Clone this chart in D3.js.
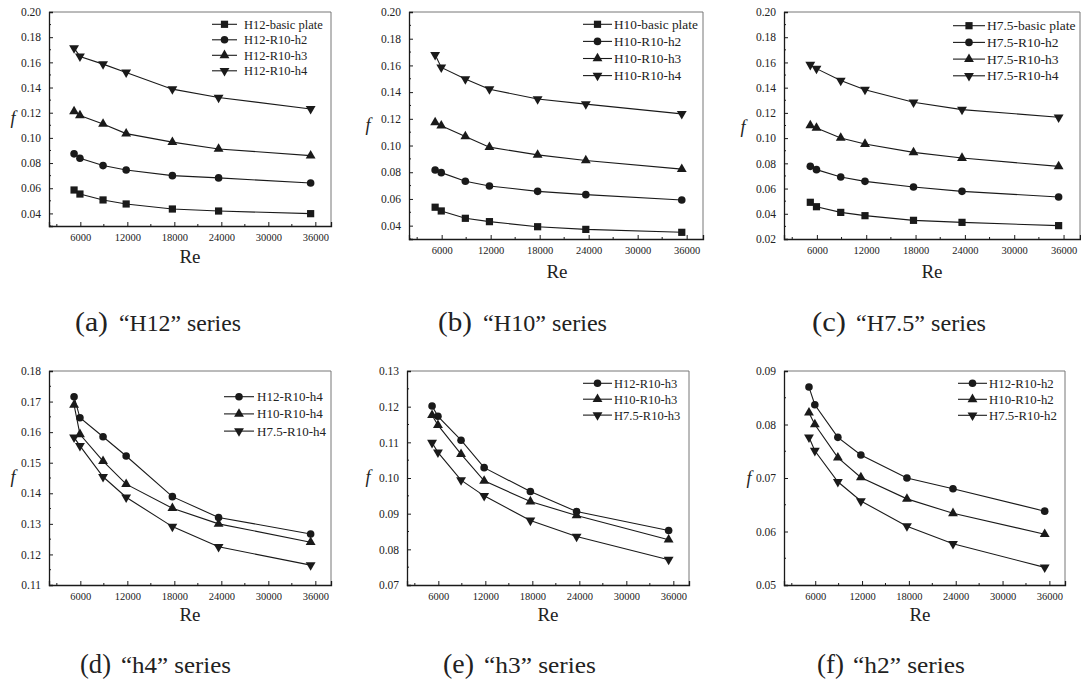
<!DOCTYPE html>
<html><head><meta charset="utf-8">
<script src="https://cdn.jsdelivr.net/npm/d3@7"></script>
<style>
html,body{margin:0;padding:0;background:#fff;}
svg{display:block;}
svg text{font-family:"Liberation Serif","Times New Roman",Tinos,"DejaVu Serif",serif !important;}
</style></head>
<body><svg id="c" width="1081" height="681"></svg>
<script>
// ---- data ----
const reValues = [5200, 5950, 8900, 11850, 17750, 23650, 35400];
const xTicks = [6000, 12000, 18000, 24000, 30000, 36000];

// (a) H12 series
const aNames = ["H12-basic plate", "H12-R10-h2", "H12-R10-h3", "H12-R10-h4"];
const aBasic = [0.0586, 0.0554, 0.0507, 0.0475, 0.0435, 0.0419, 0.0398];
const aH2 = [0.0873, 0.0838, 0.0780, 0.0745, 0.0700, 0.0682, 0.0642];
const aH3 = [0.1210, 0.1178, 0.1111, 0.1034, 0.0966, 0.0912, 0.0859];
const aH4 = [0.1714, 0.1647, 0.1586, 0.1520, 0.1387, 0.1321, 0.1230];

// (b) H10 series
const bNames = ["H10-basic plate", "H10-R10-h2", "H10-R10-h3", "H10-R10-h4"];
const bBasic = [0.0538, 0.0510, 0.0455, 0.0430, 0.0392, 0.0372, 0.0350];
const bH2 = [0.0817, 0.0797, 0.0732, 0.0697, 0.0657, 0.0632, 0.0592];
const bH3 = [0.1173, 0.1148, 0.1068, 0.0988, 0.0930, 0.0888, 0.0823];
const bH4 = [0.1680, 0.1585, 0.1498, 0.1422, 0.1348, 0.1310, 0.1237];

// (c) H7.5 series
const cNames = ["H7.5-basic plate", "H7.5-R10-h2", "H7.5-R10-h3", "H7.5-R10-h4"];
const cBasic = [0.0491, 0.0456, 0.0411, 0.0385, 0.0348, 0.0332, 0.0306];
const cH2 = [0.0776, 0.0750, 0.0692, 0.0657, 0.0612, 0.0578, 0.0533];
const cH3 = [0.1101, 0.1080, 0.1001, 0.0953, 0.0887, 0.0842, 0.0776];
const cH4 = [0.1582, 0.1551, 0.1456, 0.1384, 0.1284, 0.1226, 0.1165];

// (d) h4 series
const dNames = ["H12-R10-h4", "H10-R10-h4", "H7.5-R10-h4"];
const dH12 = [0.1716, 0.1647, 0.1585, 0.1522, 0.1389, 0.1321, 0.1267];
const dH10 = [0.1689, 0.1593, 0.1505, 0.1430, 0.1351, 0.1300, 0.1240];
const dH75 = [0.1583, 0.1555, 0.1454, 0.1387, 0.1291, 0.1225, 0.1165];

// (e) h3 series
const eNames = ["H12-R10-h3", "H10-R10-h3", "H7.5-R10-h3"];
const eH12 = [0.1202, 0.1173, 0.1106, 0.1029, 0.0962, 0.0906, 0.0853];
const eH10 = [0.1176, 0.1148, 0.1067, 0.0992, 0.0934, 0.0895, 0.0827];
const eH75 = [0.1099, 0.1072, 0.0994, 0.0950, 0.0881, 0.0836, 0.0771];

// (f) h2 series
const fNames = ["H12-R10-h2", "H10-R10-h2", "H7.5-R10-h2"];
const fH12 = [0.0870, 0.0837, 0.0776, 0.0743, 0.0700, 0.0680, 0.0638];
const fH10 = [0.0822, 0.0800, 0.0738, 0.0701, 0.0661, 0.0634, 0.0595];
const fH75 = [0.0776, 0.0751, 0.0693, 0.0657, 0.0610, 0.0577, 0.0533];

const captionLetters = ["(a)", "(b)", "(c)", "(d)", "(e)", "(f)"];
const captionTexts = ["\u201CH12\u201D series", "\u201CH10\u201D series", "\u201CH7.5\u201D series",
                      "\u201Ch4\u201D series", "\u201Ch3\u201D series", "\u201Ch2\u201D series"];

// ---- layout ----
const panels = [
  {l:49, r:331, t:12, b:226, y:[0.03,0.20], step:0.02, yFirst:0.04, names:aNames, series:[aBasic,aH2,aH3,aH4], marks:["sq","ci","tu","td"],
   leg:{x0:212,x1:237,tx:244,y0:24.3,dy:15.5,fs:12.5}, fx:13, fy:118, rex:190, rey:263},
  {l:409, r:703, t:12, b:239, y:[0.03,0.20], step:0.02, yFirst:0.04, names:bNames, series:[bBasic,bH2,bH3,bH4], marks:["sq","ci","tu","td"],
   leg:{x0:583,x1:612,tx:614,y0:24.3,dy:17.1,fs:13.3}, fx:368, fy:125, rex:557, rey:278},
  {l:784, r:1080, t:12, b:239, y:[0.02,0.20], step:0.02, yFirst:0.02, names:cNames, series:[cBasic,cH2,cH3,cH4], marks:["sq","ci","tu","td"],
   leg:{x0:953,x1:985,tx:987,y0:25.7,dy:16.7,fs:13.5}, fx:743, fy:127, rex:932, rey:278},
  {l:49, r:331, t:371, b:585, y:[0.11,0.18], step:0.01, yFirst:0.11, names:dNames, series:[dH12,dH10,dH75], marks:["ci","tu","td"],
   leg:{x0:224,x1:254,tx:257,y0:396.7,dy:17.2,fs:13}, fx:13, fy:477, rex:190, rey:621},
  {l:407, r:689, t:371, b:585, y:[0.07,0.13], step:0.01, yFirst:0.07, names:eNames, series:[eH12,eH10,eH75], marks:["ci","tu","td"],
   leg:{x0:583,x1:612,tx:614,y0:383.3,dy:15.9,fs:12.5}, fx:368, fy:477, rex:548, rey:621},
  {l:784, r:1065, t:371, b:585, y:[0.05,0.09], step:0.01, yFirst:0.05, names:fNames, series:[fH12,fH10,fH75], marks:["ci","tu","td"],
   leg:{x0:958,x1:987,tx:989,y0:383.3,dy:16,fs:12.8}, fx:749, fy:478, rex:920, rey:621}
];
const captions = [
  {x:75, w1:33, x2:119, w2:122, y:331},
  {x:438, w1:34, x2:483, w2:124, y:331},
  {x:812, w1:34, x2:856, w2:130, y:331},
  {x:80, w1:31, x2:121, w2:110, y:673},
  {x:443, w1:31, x2:484, w2:112, y:673},
  {x:817, w1:27, x2:853, w2:112, y:673}
];

const svg = d3.select("#c");
const ink = "#1a1a1a";
const serif = "Liberation Serif, Times New Roman, serif";

function marker(g, type, x, y) {
  if (type === "sq") {
    g.append("rect").attr("x", x-3.6).attr("y", y-3.6).attr("width", 7.2).attr("height", 7.2).attr("fill", ink);
  } else if (type === "ci") {
    g.append("circle").attr("cx", x).attr("cy", y).attr("r", 3.8).attr("fill", ink);
  } else {
    const sym = d3.symbol().type(d3.symbolTriangle).size(42);
    const rot = type === "td" ? 180 : 0;
    g.append("path").attr("d", sym()).attr("transform", `translate(${x},${y}) rotate(${rot})`).attr("fill", ink);
  }
}

panels.forEach((p, pi) => {
  const g = svg.append("g").attr("font-family", serif);
  const x = d3.scaleLinear().domain([2000, 38000]).range([p.l, p.r]);
  const y = d3.scaleLinear().domain(p.y).range([p.b, p.t]);

  g.append("line").attr("x1", p.l).attr("x2", p.r).attr("y1", p.t).attr("y2", p.t).attr("stroke", "#777").attr("stroke-width", 1);
  g.append("line").attr("x1", p.r).attr("x2", p.r).attr("y1", p.t).attr("y2", p.b).attr("stroke", "#777").attr("stroke-width", 1);

  const minorX = d3.range(3000, 38000, 6000);
  const xAx = g.append("g").attr("transform", `translate(0,${p.b})`)
    .call(d3.axisBottom(x).tickValues(xTicks).tickSize(-4).tickPadding(8).tickFormat(d3.format("d")));
  xAx.attr("font-family", serif);
  xAx.select(".domain").attr("stroke", ink).attr("stroke-width", 1.3);
  xAx.selectAll(".tick line").attr("stroke", ink);
  xAx.selectAll("text").attr("font-size", 10.5).attr("fill", "#222");
  g.append("g").selectAll("line").data(minorX).join("line")
    .attr("x1", d => x(d)).attr("x2", d => x(d)).attr("y1", p.b).attr("y2", p.b - 2).attr("stroke", ink);

  const nMaj = Math.round((p.y[1] - p.yFirst) / p.step);
  const yMaj = d3.range(nMaj + 1).map(i => +(p.yFirst + i * p.step).toFixed(3));
  const yMin = [];
  for (let v = p.y[0]; v <= p.y[1] + 1e-9; v += p.step / 2) {
    const vv = +v.toFixed(4);
    if (!yMaj.some(m => Math.abs(m - vv) < 1e-6)) yMin.push(vv);
  }
  const yAx = g.append("g").attr("transform", `translate(${p.l},0)`)
    .call(d3.axisLeft(y).tickValues(yMaj).tickSize(-4).tickPadding(8).tickFormat(d3.format(".2f")));
  yAx.attr("font-family", serif);
  yAx.select(".domain").attr("stroke", ink).attr("stroke-width", 1.3);
  yAx.selectAll(".tick line").attr("stroke", ink);
  yAx.selectAll("text").attr("font-size", 11.5).attr("fill", "#222");
  g.append("g").selectAll("line").data(yMin).join("line")
    .attr("x1", p.l).attr("x2", p.l + 2).attr("y1", d => y(d)).attr("y2", d => y(d)).attr("stroke", ink);

  g.append("text").attr("x", p.rex).attr("y", p.rey).attr("text-anchor", "middle")
    .attr("font-size", 19).attr("fill", "#222").text("Re");
  g.append("text").attr("x", p.fx).attr("y", p.fy + 6).attr("text-anchor", "middle")
    .attr("font-size", 18).attr("font-style", "italic").attr("fill", "#222").text("f");

  const line = d3.line().x((d, i) => x(reValues[i])).y(d => y(d));
  p.series.forEach((s, si) => {
    g.append("path").attr("d", line(s)).attr("fill", "none").attr("stroke", ink).attr("stroke-width", 1.1);
    s.forEach((v, i) => marker(g, p.marks[si], x(reValues[i]), y(v)));
  });

  p.names.forEach((n, i) => {
    const ly = p.leg.y0 + i * p.leg.dy;
    g.append("line").attr("x1", p.leg.x0).attr("x2", p.leg.x1).attr("y1", ly).attr("y2", ly).attr("stroke", ink).attr("stroke-width", 1.1);
    marker(g, p.marks[i], (p.leg.x0 + p.leg.x1) / 2, ly);
    g.append("text").attr("x", p.leg.tx).attr("y", ly + 4.5).attr("font-size", p.leg.fs).attr("fill", "#222").text(n);
  });

  const c = captions[pi];
  const cg = svg.append("g").attr("font-family", serif);
  cg.append("text").attr("x", c.x).attr("y", c.y).attr("font-size", 28).attr("fill", "#222")
    .attr("textLength", c.w1).attr("lengthAdjust", "spacingAndGlyphs").text(captionLetters[pi]);
  cg.append("text").attr("x", c.x2).attr("y", c.y).attr("font-size", 23).attr("fill", "#222")
    .attr("textLength", c.w2).attr("lengthAdjust", "spacingAndGlyphs").text(captionTexts[pi]);
});
</script></body></html>
